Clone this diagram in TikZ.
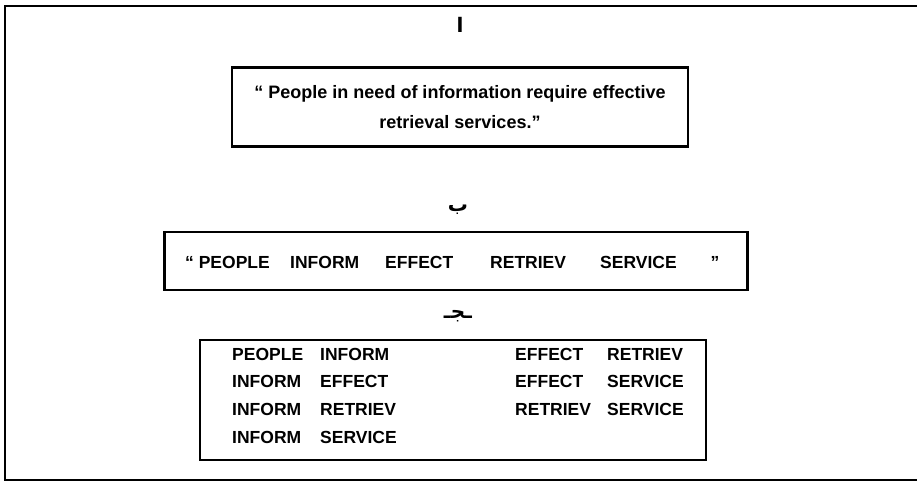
\documentclass[tikz,border=0pt]{standalone}
\usepackage{fontspec}
\setmainfont{Liberation Sans}
\newfontfamily\arabicfont[Script=Arabic]{DejaVu Sans}
\TeXXeTstate=1

\tikzset{
  framebox/.style={draw, line width=2.2pt, inner sep=0pt},
  word/.style={anchor=west, inner sep=0pt},
  letter/.style={font=\arabicfont\bfseries\fontsize{20}{22}\selectfont}
}

\begin{document}
\begin{tikzpicture}[x=1pt, y=-1pt, every node/.style={font=\bfseries\fontsize{17.5}{30}\selectfont}]
        \useasboundingbox (0,0) rectangle (917,485);
        \draw[line width=1.2pt] (917,6) -- (5,6) -- (5,480) -- (917,480);

        \node[letter] (alef) at (460,25) {\beginR ا\endR};
        \node[framebox, align=center, minimum width=456pt, minimum height=79pt, font=\bfseries\fontsize{18}{30}\selectfont] (sentence) at (460,107) {`` People in need of information require effective\\retrieval services.''};

        \node[letter] (ba) at (458,210) {\beginR ب\endR};
        \node[framebox, minimum width=583pt, minimum height=58pt] (stems) at (456,261) {};
        \foreach \x/\w [count=\i] in {185/`` PEOPLE, 290/INFORM, 385/EFFECT, 490/RETRIEV, 600/SERVICE\hspace{34pt}''}
            \node[word] (stem\i) at (\x,262) {\w};

        \node[letter] (jim) at (458,316) {\beginR ـجـ\endR};
        \node[framebox, minimum width=506pt, minimum height=120pt] (pairs) at (453,400) {};
        \foreach \y/\a/\b [count=\i] in {354/PEOPLE/INFORM, 381/INFORM/EFFECT, 409/INFORM/RETRIEV, 437/INFORM/SERVICE}
            \node[word] (left\i) at (232,\y) {\makebox[88pt][l]{\a}\b};
        \foreach \y/\a/\b [count=\i] in {354/EFFECT/RETRIEV, 381/EFFECT/SERVICE, 409/RETRIEV/SERVICE}
            \node[word] (right\i) at (515,\y) {\makebox[92pt][l]{\a}\b};
\end{tikzpicture}
\end{document}
